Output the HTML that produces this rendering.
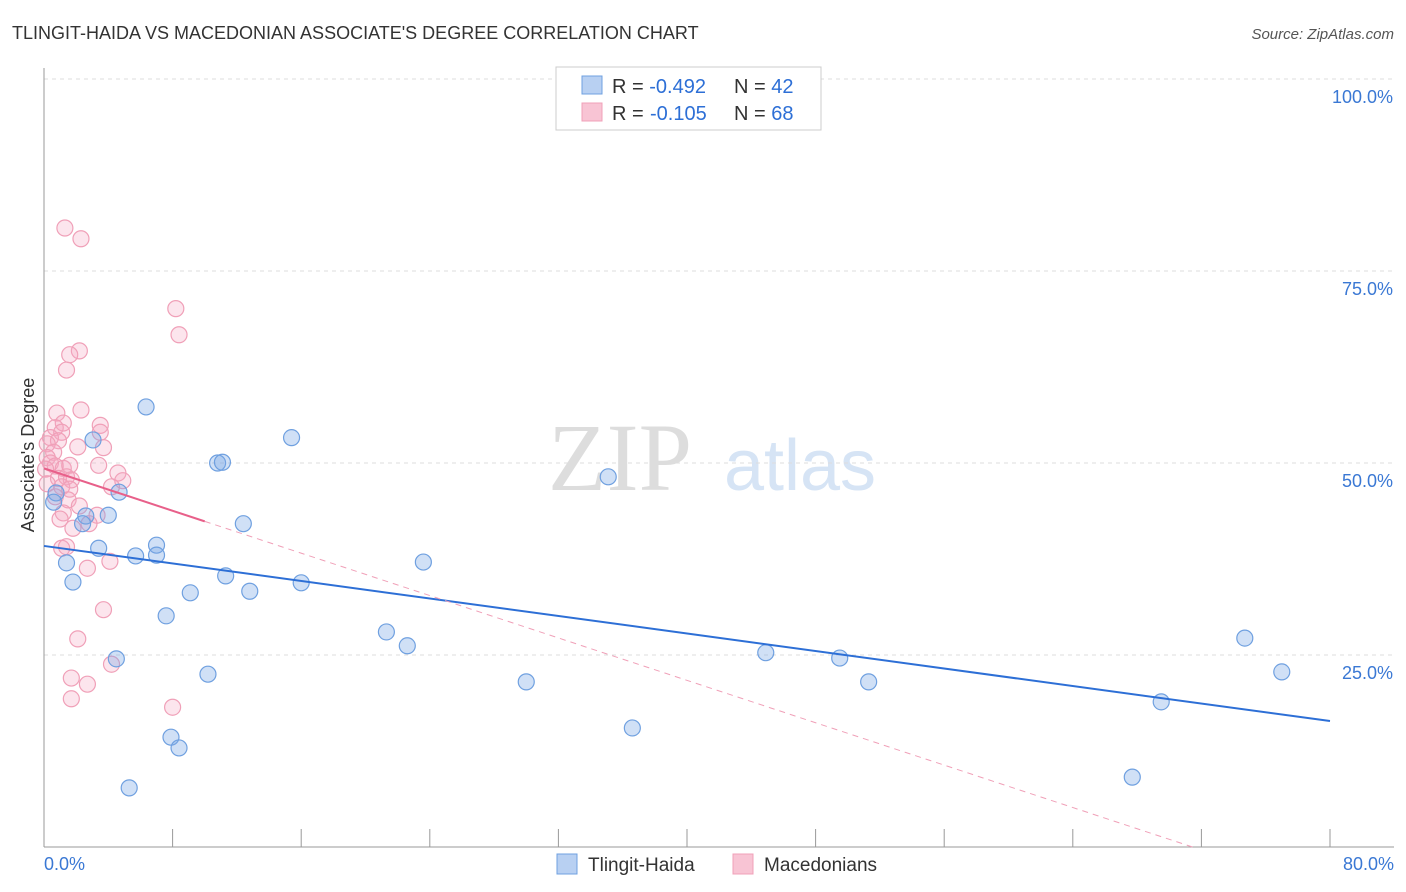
<!DOCTYPE html>
<html><head><meta charset="utf-8"><style>
body{margin:0;background:#fff;font-family:"Liberation Sans",sans-serif;}
svg{display:block}
</style></head><body>
<svg id="chart" width="1406" height="892">
<text x="12" y="39" font-size="18" fill="#333">TLINGIT-HAIDA VS MACEDONIAN ASSOCIATE'S DEGREE CORRELATION CHART</text>
<text x="1394" y="39" font-size="15" fill="#555" font-style="italic" text-anchor="end">Source: ZipAtlas.com</text>
<text x="620" y="490" font-size="96" fill="#ddd" font-family="Liberation Serif,serif" text-anchor="middle">ZIP</text>
<text x="800" y="490" font-size="72" fill="#d6e4f5" text-anchor="middle">atlas</text>
<text transform="translate(34,455) rotate(-90)" font-size="18" fill="#333" text-anchor="middle">Associate's Degree</text>
<g id="grid"></g><g id="axes"></g><g id="marks"></g>
<g>
<rect x="556" y="67" width="265" height="63" fill="#fff" stroke="#ccc"/>
<rect x="582" y="76" width="20" height="18" fill="#b8d0f2" stroke="#6fa0e0"/>
<rect x="582" y="103" width="20" height="18" fill="#f8c4d4" stroke="#f0a0b8"/>
<text x="612" y="93" font-size="20" fill="#333">R = <tspan fill="#2d6fd6">-0.492</tspan><tspan x="734">N = </tspan><tspan fill="#2d6fd6">42</tspan></text>
<text x="612" y="120" font-size="20" fill="#333">R = <tspan x="650" fill="#2d6fd6">-0.105</tspan><tspan x="734">N = </tspan><tspan fill="#2d6fd6">68</tspan></text>
</g>
<g>
<rect x="557" y="854" width="20" height="20" fill="#b8d0f2" stroke="#6fa0e0"/>
<text x="588" y="871" font-size="19" fill="#333">Tlingit-Haida</text>
<rect x="733" y="854" width="20" height="20" fill="#f8c4d4" stroke="#f0a0b8"/>
<text x="764" y="871" font-size="19" fill="#333">Macedonians</text>
</g>
</svg>
<script>
const yTicks=[25,50,75,100];
const yTickLabels=["25.0%","50.0%","75.0%","100.0%"];
const xTicks=[0,8,16,24,32,40,48,56,64,72,80];
const blueX=[6.35,3.05,15.4,10.8,11.1,35.1,0.75,4.67,0.6,2.6,4.0,2.4,12.4,3.4,7.0,7.0,5.7,1.4,23.6,11.3,1.8,16.0,9.1,12.8,7.6,21.3,22.6,74.7,44.9,49.5,4.5,10.2,77.0,30.0,51.3,69.5,36.6,7.9,8.4,67.7,5.3];
const blueY=[57.3,53.0,53.3,50.0,50.1,48.2,46.1,46.2,44.9,43.1,43.2,42.1,42.1,38.9,39.3,38.0,37.9,37.0,37.1,35.3,34.5,34.4,33.1,33.3,30.1,28.0,26.2,27.2,25.3,24.6,24.5,22.5,22.8,21.5,21.5,18.9,15.5,14.3,12.9,9.1,7.7];
const pinkX=[1.3,2.3,8.2,8.4,2.2,1.6,1.4,2.3,0.8,1.2,3.5,0.7,1.1,3.5,0.4,0.9,0.2,2.1,3.7,0.6,0.2,0.4,0.7,1.2,1.6,0.1,3.4,4.6,0.9,1.4,1.7,4.9,0.2,1.1,1.6,4.2,0.7,1.5,2.2,1.2,3.3,1.0,2.8,1.8,1.1,1.4,4.1,2.7,3.7,2.1,1.7,2.7,4.2,1.7,8.0];
const pinkY=[80.6,79.2,70.1,66.7,64.6,64.1,62.1,56.9,56.5,55.2,54.9,54.6,54.0,54.0,53.3,52.9,52.5,52.1,52.0,51.4,50.7,50.0,49.6,49.3,49.7,49.2,49.7,48.7,48.0,48.2,47.8,47.7,47.3,46.9,46.6,46.9,45.6,45.2,44.4,43.5,43.2,42.7,42.1,41.5,38.9,39.1,37.2,36.3,30.9,27.1,22.0,21.2,23.8,19.3,18.2];
const blueTrend=[39.2,16.4];
const pinkTrend=[49.3,-0.69];
const NS="http://www.w3.org/2000/svg";
const sx=v=>44+v*(1286/80);
const sy=v=>847-v*7.68;
function mk(tag,attrs,parent){const e=document.createElementNS(NS,tag);for(const k in attrs)e.setAttribute(k,attrs[k]);document.getElementById(parent).appendChild(e);return e;}
yTicks.forEach((t,i)=>{
 const l=mk('line',{x1:44,x2:1394,y1:sy(t),y2:sy(t),stroke:'#ddd','stroke-dasharray':'4,4'},'grid');
 
 
 const tx=mk('text',{x:1393,y:sy(t)+24,'font-size':18,fill:'#3a78d4','text-anchor':'end'},'axes');
 tx.textContent=yTickLabels[i];
 
 
});
const ax=mk('line',{x1:44,x2:44,y1:68,y2:847,stroke:'#999'},'axes');


const bx=mk('line',{x1:44,x2:1394,y1:847,y2:847,stroke:'#999'},'axes');


xTicks.forEach(t=>{const l=mk('line',{x1:sx(t),x2:sx(t),y1:829,y2:847,stroke:'#999'},'axes');
 
 });
const xl0=mk('text',{x:44,y:870,'font-size':18,fill:'#3a78d4'},'axes');xl0.textContent='0.0%';


const xl1=mk('text',{x:1394,y:870,'font-size':18,fill:'#3a78d4','text-anchor':'end'},'axes');xl1.textContent='80.0%';


pinkX.forEach((x,i)=>{const c=mk('circle',{cx:sx(x),cy:sy(pinkY[i]),r:8,fill:'rgba(245,170,195,0.3)',stroke:'#f0a0b8','stroke-width':1.2},'marks');
 
 });
blueX.forEach((x,i)=>{const c=mk('circle',{cx:sx(x),cy:sy(blueY[i]),r:8,fill:'rgba(120,165,230,0.35)',stroke:'#6fa0e0','stroke-width':1.2},'marks');
 
 });
const bt=mk('line',{x1:sx(0),y1:sy(blueTrend[0]),x2:sx(80),y2:sy(blueTrend[1]),stroke:'#2d6fd6','stroke-width':2},'marks');


const xEnd=pinkTrend[0]/-pinkTrend[1];
const pd=mk('line',{x1:sx(10),y1:sy(pinkTrend[0]+pinkTrend[1]*10),x2:sx(xEnd),y2:sy(0),stroke:'#f0a0b8','stroke-width':1,'stroke-dasharray':'6,5'},'marks');


const ps=mk('line',{x1:sx(0),y1:sy(pinkTrend[0]),x2:sx(10),y2:sy(pinkTrend[0]+pinkTrend[1]*10),stroke:'#e8608a','stroke-width':2},'marks');


</script>
</body></html>
